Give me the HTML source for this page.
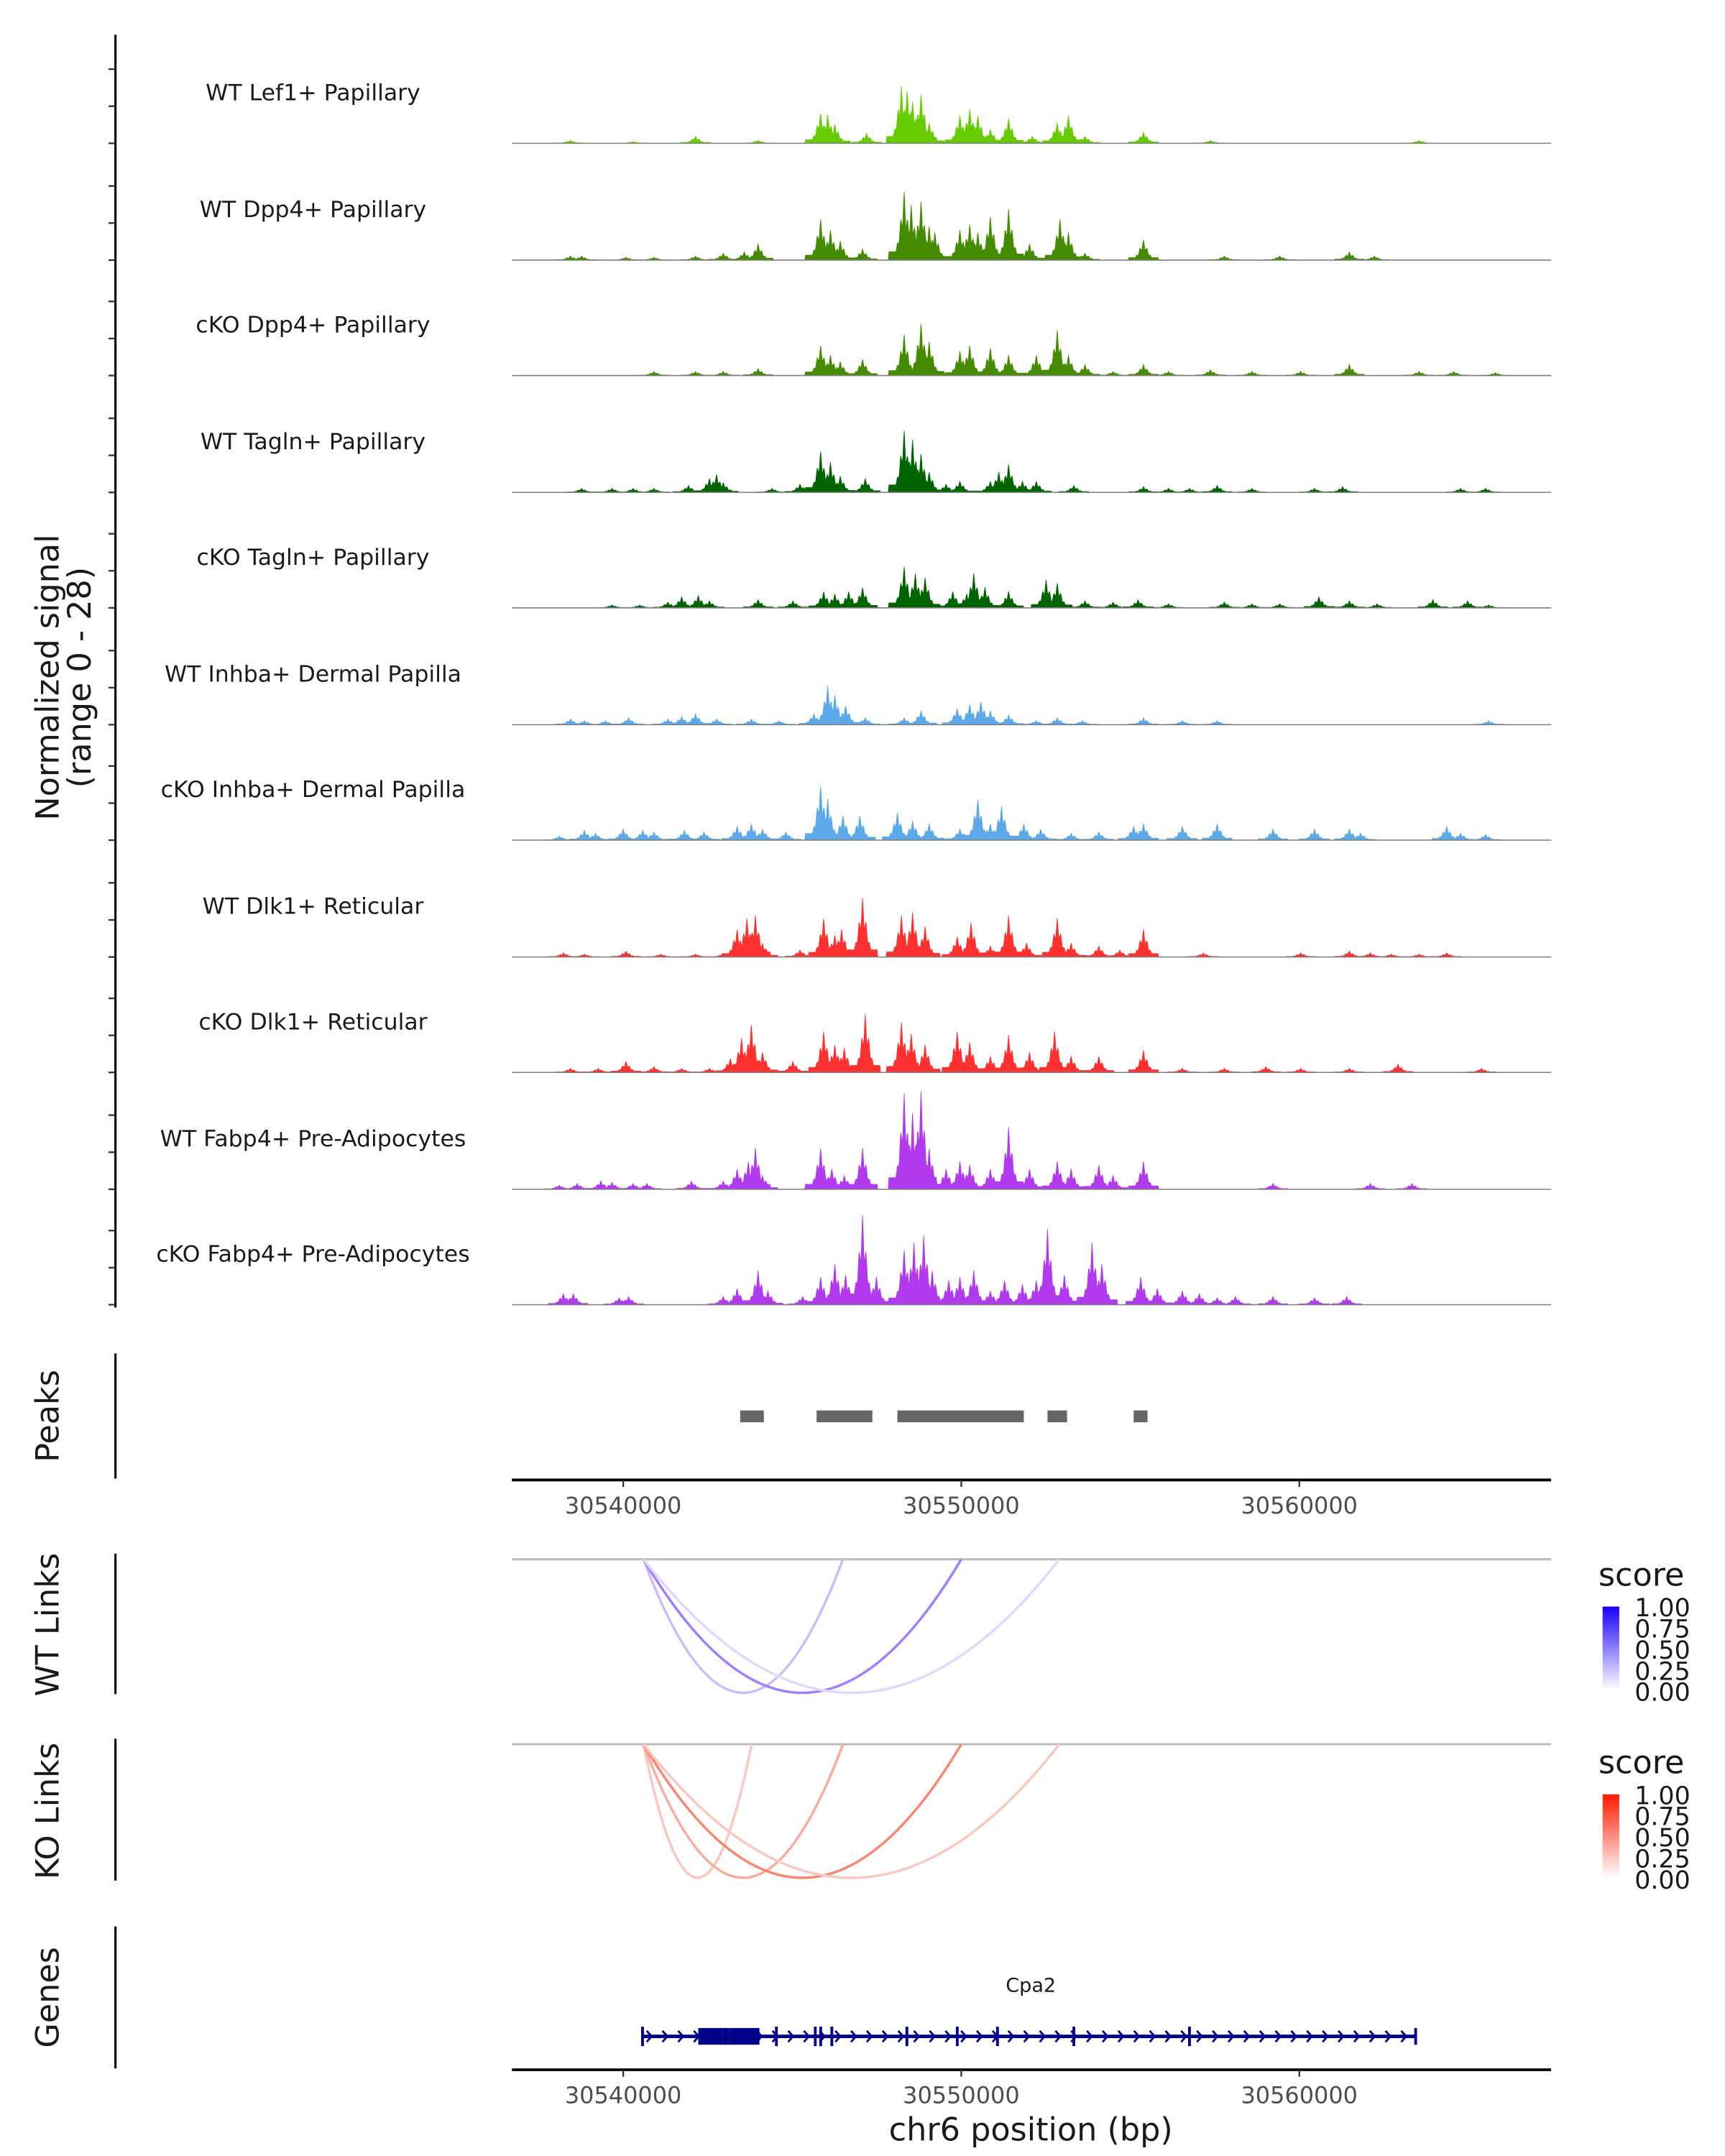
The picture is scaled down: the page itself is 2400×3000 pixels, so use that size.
<!DOCTYPE html>
<html><head><meta charset="utf-8"><style>
html,body{margin:0;padding:0;background:#fff;}
svg{display:block;font-family:"DejaVu Sans","Liberation Sans",sans-serif;}
</style></head><body>
<svg id="chart" xmlns="http://www.w3.org/2000/svg" width="2400" height="3000" viewBox="0 0 1240 1550">
<rect width="1240" height="1550" fill="#fff"/>
<g id="g"></g>
</svg>
<script>
// ---- data (positions in kb offset from 30,540,000 bp; signal values in normalized units) ----
const trackNames = ["WT Lef1+ Papillary","WT Dpp4+ Papillary","cKO Dpp4+ Papillary","WT Tagln+ Papillary","cKO Tagln+ Papillary","WT Inhba+ Dermal Papilla","cKO Inhba+ Dermal Papilla","WT Dlk1+ Reticular","cKO Dlk1+ Reticular","WT Fabp4+ Pre-Adipocytes","cKO Fabp4+ Pre-Adipocytes"];
const trackColors = ["#66cc00","#458b00","#458b00","#006400","#006400","#5ca8e8","#5ca8e8","#ff3030","#ff3030","#b23aee","#b23aee"];
const t1Pos=[-1.56,0.29,2.14,3.99,5.84,6.05,6.26,7.20,8.23,8.40,8.56,8.81,9.05,9.96,10.25,10.49,10.86,11.40,12.10,12.84,13.17,13.66,15.39,17.37,23.54];
const t1Val=[0.7,0.4,1.7,0.7,7.4,7,4.7,2.4,13.9,13,10.1,12,5,6.8,8.4,6.8,3.4,6,1.7,5,6.8,1.7,2.7,0.7,0.7];
const t2Pos=[-1.56,-1.23,0.08,0.91,2.14,2.96,3.58,3.99,5.84,6.13,6.42,7.08,8.31,8.52,8.81,9.05,9.22,9.96,10.25,10.49,10.86,11.40,12.02,12.92,13.17,13.66,15.39,17.78,19.42,21.48,22.22];
const t2Val=[1,1,0.7,0.7,1,1.7,2,4,10.1,7.4,4.7,2.7,16.9,13.5,14.5,8.4,6.8,7.4,8.8,6.8,10.8,12.5,4,10.1,6.8,1.7,5,1,1,2,1];
const t3Pos=[0.91,2.14,2.96,3.99,5.84,6.13,6.42,7.08,8.31,8.81,9.05,9.96,10.25,10.86,11.40,12.22,12.84,13.17,13.66,14.49,15.39,16.13,17.37,18.60,20.04,21.48,23.54,24.57,25.80];
const t3Val=[1,1,1,1.7,7.4,5,3.4,4,10.1,12.8,8.4,6,7.4,6.8,5,5,11.1,5,2.7,1,2.7,1,1.4,1,1,2.7,1,1,0.7];
const t4Pos=[-1.23,-0.33,0.29,0.91,1.93,2.55,2.76,2.96,4.40,5.23,5.84,6.13,6.42,7.16,8.31,8.56,8.81,9.05,9.55,9.96,10.86,11.11,11.40,11.81,12.22,13.33,15.39,16.13,16.75,17.57,18.60,20.45,21.28,24.77,25.51];
const t4Val=[1,1,1,1,1.7,3.4,4.4,2.4,1,2,10.1,7.4,4,3.4,15.2,12.8,9.5,5,2,2.7,2.7,5,6.8,2.7,2.7,1.7,1.4,1,1,1.7,1,1,1.4,1,1];
const t5Pos=[-0.33,0.49,1.32,1.73,2.22,2.55,3.99,5.02,5.93,6.26,6.67,7.08,8.31,8.64,8.93,9.75,10.16,10.37,10.70,11.40,12.51,12.84,13.66,14.49,15.23,16.13,17.78,18.60,19.42,20.58,21.48,22.30,23.95,24.98,25.60];
const t5Val=[0.7,0.7,1.4,2.7,3,1.7,2,1.7,4,3.4,4,5,10.1,8.4,7.4,4,3.4,8.4,5,4,6.8,6,1.7,1.4,2,1,1.4,1,1,2.7,1.7,1,2,1.7,0.7];
const t6Pos=[-1.56,-1.15,-0.53,0.16,1.32,1.73,2.14,2.76,3.79,4.61,5.64,6.05,6.26,6.58,7.16,8.31,8.81,9.88,10.25,10.58,10.86,11.40,12.22,12.84,13.58,15.39,16.54,17.57,25.60];
const t6Val=[1.4,1,1,1.7,1.4,2,2.7,1.4,1.4,1,2.7,9.5,7.4,4.7,1.7,1.7,3.4,4,5,5.7,3.4,2.4,1,1.7,1,1.7,1,1,1];
const t7Pos=[-1.89,-1.15,-0.82,0,0.58,0.91,1.81,2.39,3.37,3.79,4.12,4.81,5.84,6.05,6.50,7.00,8.11,8.56,9.05,9.96,10.49,10.86,11.19,11.85,12.35,13.25,14.07,15.10,15.39,16.54,17.57,19.22,20.45,21.48,21.81,24.36,24.77,25.51];
const t7Val=[1,2.4,1.7,2.7,2.4,2,2.4,2,3.4,4,2.7,2,13.5,10.1,6,6,6.8,4.7,4,2.7,10.1,4,8.4,4,2.7,1.7,2,3.4,4,3.4,4,2.7,2.7,2.7,1.7,3.4,1.7,1.4];
const t8Pos=[-1.77,-1.15,0.08,1.11,2.14,2.96,3.37,3.66,3.91,4.12,5.23,5.93,6.26,6.46,7.08,8.23,8.56,8.93,9.88,10.29,10.86,11.40,11.93,12.84,13.25,14.07,14.69,15.39,17.16,20.04,21.48,22.10,22.72,23.54,24.36];
const t8Val=[1,0.7,1.4,0.7,0.7,0.7,6.8,9.5,10.1,3.4,1.7,9.5,5.4,6.8,14.5,10.1,10.8,7.4,5,8.4,2.7,10.1,3.4,9.5,3.4,2.7,1.7,6.8,1,1,1.4,1,0.7,0.7,1];
const t9Pos=[-1.56,-0.74,0.08,0.91,1.73,2.55,3.17,3.50,3.79,4.12,5.02,5.93,6.26,6.54,7.16,8.23,8.52,8.93,9.88,10.25,10.86,11.40,12.02,12.76,13.25,14.07,15.39,16.54,17.78,19.01,20.04,21.48,22.92,25.39];
const t9Val=[1,1,2.7,1.4,1,1,3.4,8.4,11.8,5,2.7,10.1,6.8,6,14.2,12.2,9.5,6.8,10.1,7.4,4,9.1,5,10.1,4,4,5.4,1,1,1.4,1,1,2,1];
const t10Pos=[-1.89,-1.36,-0.66,-0.33,0.29,0.70,2.02,2.96,3.37,3.70,3.91,4.12,5.84,6.17,6.54,7.08,8.31,8.56,8.81,9.05,9.55,9.96,10.25,10.86,11.40,12.02,12.84,13.25,14.07,14.49,15.39,19.22,22.10,23.33];
const t10Val=[1,1.4,2,1.7,1.4,1.4,2,2,5,6.8,10.1,3.4,10.1,5,3.4,10.1,23.6,18.6,24.3,10.1,5,6.8,6,5,15.2,5,6.8,5,6,3.4,6.8,1.4,1.4,1.4];
const t11Pos=[-1.77,-1.48,-0.12,0.16,2.96,3.37,3.99,4.28,5.31,5.84,6.26,6.58,7.08,7.49,8.31,8.60,8.89,9.14,9.63,9.96,10.37,10.86,11.28,11.81,12.22,12.55,13.05,13.87,14.16,15.31,15.80,16.54,17.04,17.57,18.11,19.22,20.45,21.40];
const t11Val=[2.7,2.7,1.7,2,2,4,8.4,3.4,2,6.8,10.1,7.4,22,6.8,13.5,15.2,16.9,8.4,6,6.8,8.4,3.4,6,5,6,18.6,7.4,15.2,10.1,6.8,4,3.4,2.7,1.7,2,2,1.7,2];
const trackPos=[t1Pos,t2Pos,t3Pos,t4Pos,t5Pos,t6Pos,t7Pos,t8Pos,t9Pos,t10Pos,t11Pos];
const trackVal=[t1Val,t2Val,t3Val,t4Val,t5Val,t6Val,t7Val,t8Val,t9Val,t10Val,t11Val];
const yTicks=[0,9,18];
const peakStart=[3.46,5.72,8.11,12.55,15.10];
const peakEnd=[4.16,7.37,11.85,13.13,15.51];
const xTickKb=[0,10,20];
const xTickLabels=["30540000","30550000","30560000"];
const wtLinkStart=[0.6,0.6,0.6];
const wtLinkEnd=[6.5,10.0,12.9];
const wtLinkScore=[0.35,0.65,0.2];
const koLinkStart=[0.6,0.6,0.6,0.6];
const koLinkEnd=[3.8,6.5,10.0,12.9];
const koLinkScore=[0.3,0.45,0.65,0.3];
const geneStart=0.53, geneEnd=23.46;
const exonStart=[0.53,2.22,2.40,2.95,3.15,4.49,5.64,5.80,6.13,8.35,9.84,11.03,13.29,16.71,23.40];
const exonEnd=[0.60,2.40,2.95,3.15,4.03,4.56,5.70,5.87,6.19,8.40,9.90,11.10,13.36,16.77,23.46];
const exonThick=[0,1,1,1,1,0,0,0,0,0,0,0,0,0,1];
const legendLabels=["1.00","0.75","0.50","0.25","0.00"];

// ---- scales ----
const X0=368,X1=1115;
function xs(kb){return 448+kb*24.3;}
const UNIT=2.96;
const baselines=[103,187,270,354,437,521,604,688,771,855,938];
const g=document.getElementById('g');
const NS="http://www.w3.org/2000/svg";
function el(tag,attrs,parent){const e=document.createElementNS(NS,tag);for(const k in attrs)e.setAttribute(k,attrs[k]);(parent||g).appendChild(e);return e;}
function txt(s,attrs){const e=el('text',attrs);e.textContent=s;return e;}

// left axis segments
[[25,940],[973,1063],[1117,1218],[1250,1352],[1385,1487]].forEach((s,i)=>{
  const l=el('line',{x1:83,x2:83,y1:s[0],y2:s[1],stroke:'#000','stroke-width':1.6});
  
  
});

// tracks
for(let t=0;t<11;t++){
  const b=baselines[t];
  yTicks.forEach(v=>{
    const tk=el('line',{x1:78,x2:83,y1:b-v*UNIT,y2:b-v*UNIT,stroke:'#333','stroke-width':1.2});
    
    
  });
  const pos=trackPos[t],val=trackVal[t];
  let d='M'+X0+','+b;
  const w=0.32;
  for(let px=X0;px<=X1;px+=0.5){
    const kb=(px-448)/24.3;
    let v=0,near=0;
    for(let i=0;i<pos.length;i++){
      const dd=Math.abs(kb-pos[i]);
      if(dd<w){const f=val[i]*Math.pow(1-dd/w,1.4)*(0.8+0.2*Math.cos(dd*60));if(f>v)v=f;}
      if(dd<0.45)near=Math.max(near,val[i]*0.12);
    }
    v=Math.max(v,near);
    d+=' L'+px+','+(b-v*UNIT).toFixed(2);
  }
  d+=' L'+X1+','+b+' Z';
  const p=el('path',{d:d,fill:trackColors[t],stroke:trackColors[t],'stroke-width':0.4});
  
  
  const bl=el('line',{x1:X0,x2:X1,y1:b,y2:b,stroke:'#7f7f7f','stroke-width':0.8});
  
  
  const lab=txt(trackNames[t],{x:225,y:b-31,'text-anchor':'middle','font-size':16.3,fill:'#1a1a1a'});
  
  
}
// y title
const yt=el('text',{transform:'translate(42,487) rotate(-90)','text-anchor':'middle','font-size':23,fill:'#1a1a1a'});


yt.innerHTML='<tspan x="0" dy="0">Normalized signal</tspan><tspan x="0" dy="23">(range 0 - 28)</tspan>';

// panel titles
[["Peaks",1018],["WT Links",1168],["KO Links",1302],["Genes",1436]].forEach(a=>{
  const e=txt(a[0],{transform:'translate(42,'+a[1]+') rotate(-90)','text-anchor':'middle','font-size':23,fill:'#1a1a1a'});
  
  
});

// peaks
for(let i=0;i<peakStart.length;i++){
  const r=el('rect',{x:xs(peakStart[i]),y:1014,width:xs(peakEnd[i])-xs(peakStart[i]),height:8.5,fill:'#666'});
  
  
}
// x axes
function xAxis(y,name){
  const l=el('line',{x1:X0,x2:X1,y1:y,y2:y,stroke:'#000','stroke-width':2});
  
  
  xTickKb.forEach((k,i)=>{
    const tk=el('line',{x1:xs(k),x2:xs(k),y1:y,y2:y+5,stroke:'#333','stroke-width':1.2});
    
    
    const tl=txt(xTickLabels[i],{x:xs(k),y:y+24,'text-anchor':'middle','font-size':16.5,fill:'#4d4d4d'});
    
    
  });
}
xAxis(1064,'peaks-x-axis');
xAxis(1488,'genes-x-axis');
const xt=txt('chr6 position (bp)',{x:741,y:1539,'text-anchor':'middle','font-size':23,fill:'#1a1a1a'});



// links
function mix(c,s){return 'rgb('+c.map(v=>Math.round(255+(v-255)*s)).join(',')+')';}
function links(base,st,en,sc,col,name){
  const bl=el('line',{x1:X0,x2:X1,y1:base,y2:base,stroke:'#bdbdbd','stroke-width':1.6});
  
  
  for(let i=0;i<st.length;i++){
    const a=xs(st[i]),b=xs(en[i]);
    const p=el('path',{d:'M'+a+','+base+' Q'+((a+b)/2)+','+(base+192)+' '+b+','+base,fill:'none',stroke:mix(col,sc[i]),'stroke-width':1.8});
    
    
  }
}
links(1121,wtLinkStart,wtLinkEnd,wtLinkScore,[110,60,255],'wt-link');
links(1254,koLinkStart,koLinkEnd,koLinkScore,[240,70,40],'ko-link');

// legends
const defs=el('defs',{});
defs.innerHTML='<linearGradient id="gb" x1="0" y1="1" x2="0" y2="0"><stop offset="0" stop-color="#fff"/><stop offset="1" stop-color="#1a00ff"/></linearGradient><linearGradient id="gr" x1="0" y1="1" x2="0" y2="0"><stop offset="0" stop-color="#fff"/><stop offset="1" stop-color="#ff1a00"/></linearGradient>';
function legend(y,grad,name){
  const t=txt('score',{x:1149,y:y,'font-size':23,fill:'#1a1a1a'});
  
  
  const r=el('rect',{x:1152,y:y+15,width:12,height:60,fill:'url(#'+grad+')'});
  
  
  legendLabels.forEach((s,i)=>{
    const l=txt(s,{x:1175,y:y+22+i*15.2,'font-size':18,fill:'#1a1a1a'});
    
    
  });
}
legend(1140,'gb','wt-legend');
legend(1275,'gr','ko-legend');

// gene
const gy=1464;
const gl=el('line',{x1:xs(geneStart),x2:xs(geneEnd),y1:gy,y2:gy,stroke:'#00008b','stroke-width':2.5});


for(let px=xs(geneStart)+6;px<xs(geneEnd)-4;px+=11.3){
  const c=el('path',{d:'M'+(px-2)+','+(gy-4)+' L'+(px+1.5)+','+gy+' L'+(px-2)+','+(gy+4),fill:'none',stroke:'#00008b','stroke-width':1.5});
  
  
}
for(let i=0;i<exonStart.length;i++){
  const h=exonThick[i]?12:14;
  const a=xs(exonStart[i]),b=xs(exonEnd[i]);
  const r=el('rect',{x:a,y:gy-h/2,width:Math.max(b-a,2),height:h,fill:'#00008b'});
  
  
}
const gn=txt('Cpa2',{x:741,y:1432,'text-anchor':'middle','font-size':14,fill:'#1a1a1a'});


</script>
</body></html>
